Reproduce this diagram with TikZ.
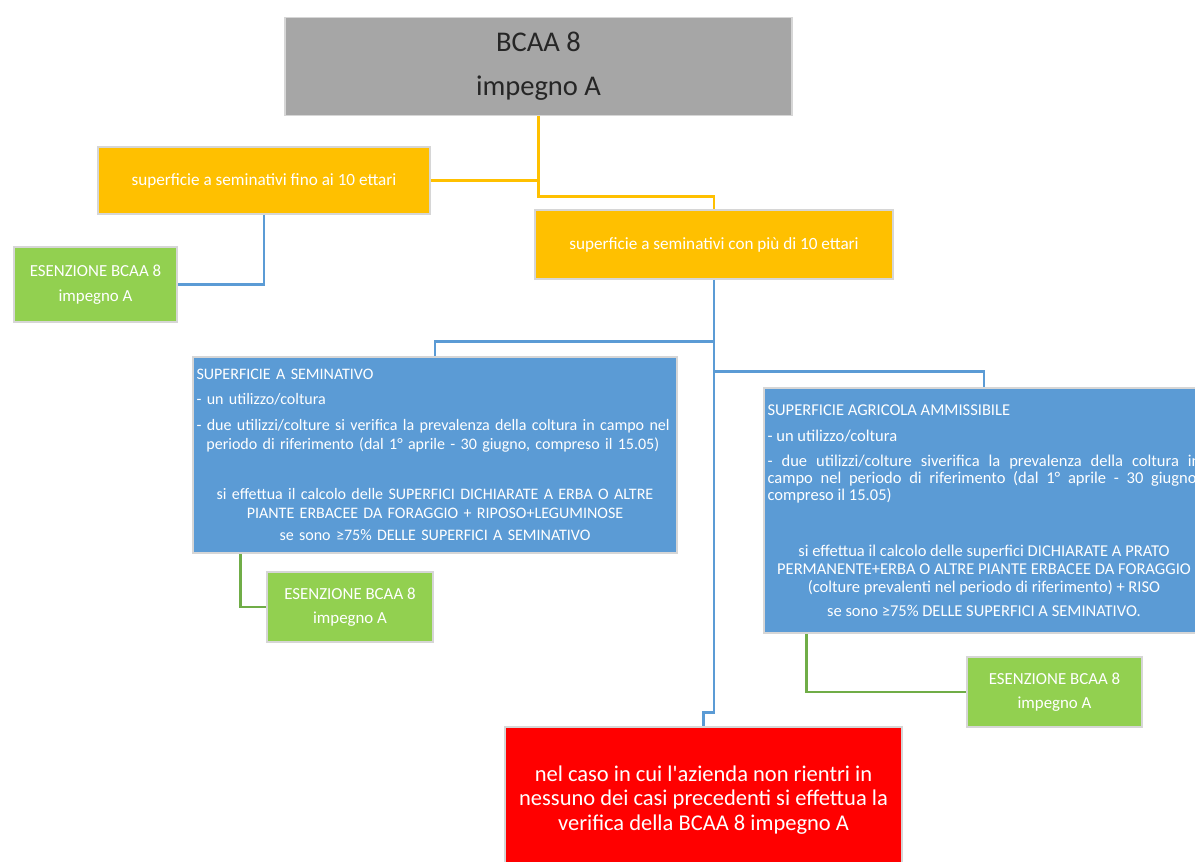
\documentclass[tikz,border=0pt]{standalone}
\usepackage{fontspec}
\setmainfont{Carlito}
\definecolor{boxgray}{HTML}{A6A6A6}
\definecolor{boxgold}{HTML}{FFC000}
\definecolor{boxgreen}{HTML}{92D050}
\definecolor{boxblue}{HTML}{5B9BD5}
\definecolor{boxred}{HTML}{FF0000}
\definecolor{linegreen}{HTML}{70AD47}
\definecolor{edgegray}{HTML}{D6D6D6}
\begin{document}
\begin{tikzpicture}[x=0.025cm,y=-0.025cm,
        box/.style={draw=edgegray,line width=1.1pt,inner sep=0pt,text=white},
        goldbox/.style={box,align=center,fill=boxgold,font=\fontsize{12.2}{14}\selectfont},
        greenbox/.style={box,align=center,fill=boxgreen,font=\fontsize{12}{14}\selectfont},
        bluebox/.style={box,fill=boxblue,inner xsep=0.09cm,font=\fontsize{11.4}{13.5}\selectfont},
        yline/.style={draw=boxgold,line width=2pt},
        bline/.style={draw=boxblue,line width=2pt},
        gline/.style={draw=linegreen,line width=2pt}]
    \path[use as bounding box,fill=white] (0,0) rectangle (1195,861);
    \clip (0,0) rectangle (1195,861);
    \node[box,align=center,fill=boxgray,text=black!85,minimum width=12.675cm,minimum height=2.45cm,
          font=\fontsize{20.3}{23}\selectfont] (goal) at (538.5,66.5) {BCAA 8\\[8.5pt]impegno A};
    \node[goldbox,minimum width=8.3cm,minimum height=1.675cm] (less) at (264,180.5)
        {superficie a seminativi fino ai 10 ettari};
    \node[goldbox,minimum width=8.95cm,minimum height=1.725cm] (more) at (714,244.5)
        {superficie a seminativi con più di 10 ettari};
    \node[greenbox,minimum width=4.075cm,minimum height=1.875cm] (exA) at (95.5,284.5)
        {ESENZIONE BCAA 8\\[3.5pt]impegno A};
    \node[bluebox,text width=11.92cm,minimum height=4.9cm] (seed) at (435,455) {%
        \raggedright SUPERFICIE A SEMINATIVO\\[4.2pt]
        - un utilizzo/coltura\\[5pt]
        \mbox{- due utilizzi/colture si verifica la prevalenza della coltura in campo nel}\\
        \mbox{\hspace*{7pt}periodo di riferimento (dal 1° aprile - 30 giugno, compreso il 15.05)}\par
        \vspace{22pt}
        \centering \mbox{si effettua il calcolo delle SUPERFICI DICHIARATE A ERBA O ALTRE}\\
        PIANTE ERBACEE DA FORAGGIO + RIPOSO+LEGUMINOSE\\[2.8pt]
        se sono ≥75\% DELLE SUPERFICI A SEMINATIVO\par};
    \node[bluebox,text width=10.82cm,minimum height=6.125cm,
          font=\fontsize{11.75}{12}\selectfont] (ammis) at (984,510.5) {%
        \spaceskip=0pt \xspaceskip=0pt
        \raggedright SUPERFICIE AGRICOLA AMMISSIBILE\\[7pt]
        - un utilizzo/coltura\\[5.5pt]
        \makebox[10.82cm][s]{- due utilizzi/colture siverifica la prevalenza della coltura in}\\
        \makebox[10.82cm][s]{campo nel periodo di riferimento (dal 1° aprile - 30 giugno,}\\
        compreso il 15.05)\par
        \vspace{28pt}
        \centering si effettua il calcolo delle superfici DICHIARATE A PRATO\\[0.8pt]
        \makebox[10.82cm]{PERMANENTE+ERBA O ALTRE PIANTE ERBACEE DA FORAGGIO}\\[0.8pt]
        (colture prevalenti nel periodo di riferimento) + RISO\\[5pt]
        se sono ≥75\% DELLE SUPERFICI A SEMINATIVO.\par};
    \node[greenbox,minimum width=4.15cm,minimum height=1.75cm] (exB) at (350,607)
        {ESENZIONE BCAA 8\\[3.5pt]impegno A};
    \node[greenbox,minimum width=4.375cm,minimum height=1.75cm] (exC) at (1054.5,692)
        {ESENZIONE BCAA 8\\[3.5pt]impegno A};
    \node[box,align=center,fill=boxred,minimum width=9.925cm,minimum height=3.65cm,
          font=\fontsize{16}{17.4}\selectfont] (check) at (703.5,800)
        {nel caso in cui l\textquotesingle azienda non rientri in\\nessuno dei casi precedenti si effettua la\\verifica della BCAA 8 impegno A};
    \draw[yline] (goal.south) -- ++(0,80) -| (more.north);
    \draw[yline] (less.east) -- (less.east -| goal.south);
    \draw[bline] (less.south) |- (exA.east);
    \draw[bline] (more.south) -- ++(0,433) -| (check.north);
    \draw[bline] (more.south) ++(0,62) -| (seed.north);
    \draw[bline] (more.south) ++(0,92) -| (ammis.north);
    \draw[gline] (seed.south west) ++(48,0) |- (exB.west);
    \draw[gline] (ammis.south west) ++(43,0) |- (exC.west);
\end{tikzpicture}
\end{document}
